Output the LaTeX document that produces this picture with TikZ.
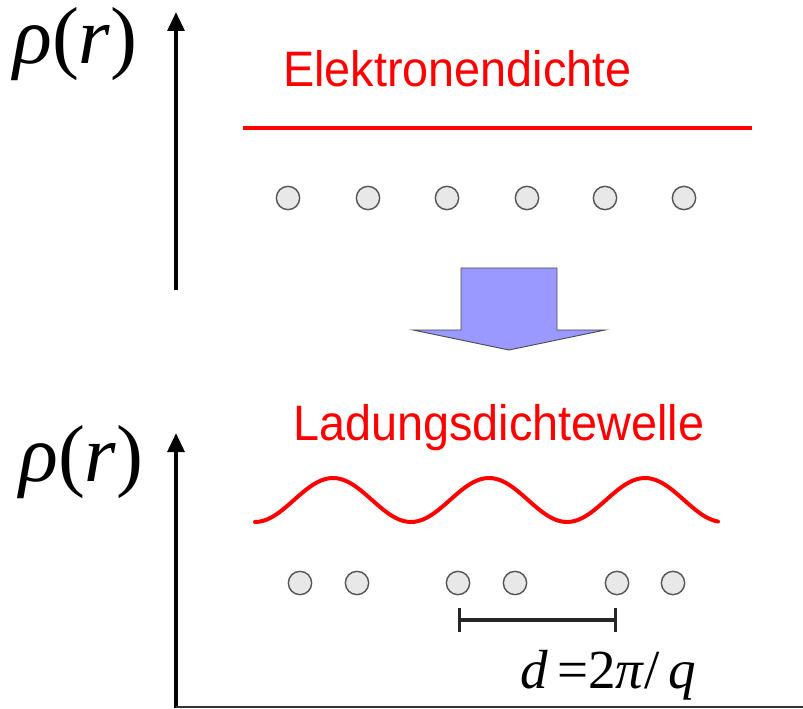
\documentclass[tikz,border=0pt]{standalone}
\usepackage{fontspec}
\usetikzlibrary{arrows.meta,positioning}
\newfontfamily\lblfont[FakeStretch=0.94]{Liberation Sans}
\newfontfamily\symfont{Liberation Serif}
\definecolor{ionfill}{HTML}{E8E8E8}
\definecolor{ionline}{HTML}{555555}
\definecolor{blockblue}{HTML}{9999FF}

\begin{document}
\begin{tikzpicture}[x=0.03cm, y=-0.03cm,
  ion/.style={circle, draw=ionline, fill=ionfill, line width=1.2pt, minimum size=0.7cm, inner sep=0pt},
  lbl/.style={anchor=base west, inner sep=0pt, text=red, font=\lblfont\fontsize{42.5}{50}\selectfont},
  sym/.style={anchor=base west, inner sep=0pt, font=\symfont\fontsize{69}{82}\selectfont},
  axis/.style={line width=3.4pt, -{Triangle[length=0.57cm, width=0.5cm]}},
  dens/.style={red, line width=3.4pt}]
\useasboundingbox (0,0) rectangle (803,709);

% ---------------- upper panel: homogeneous electron density
\coordinate (a1) at (176,290); \coordinate (a1top) at (176,12);
\draw[axis] (a1) -- (a1top);
\node[sym] (rho1) at (13,64) {\textit{ρ}(\textit{r})};
\node[lbl] (t1) at (283,87) {Elektronendichte};
\coordinate (e1) at (243,128); \coordinate (e2) at (752,128);
\draw[dens] (e1) -- (e2);
\foreach \i/\x in {1/288,2/368,3/447,4/527,5/605,6/684}
  \node[ion] (u\i) at (\x,198) {};

% ---------------- block arrow
\draw[fill=blockblue, draw=black!70, line width=0.8pt, line join=miter]
  (461,268) -- (557,268) -- (557,330) -- (605,330) -- (509,350) -- (413,330) -- (461,330) -- cycle;

% ---------------- lower panel: charge density wave
\coordinate (a2) at (176,708); \coordinate (a2top) at (176,433); \coordinate (a2end) at (803,707);
\draw[axis] (a2) -- (a2top);
\draw[line width=1.3pt, black!80] (a2) ++(0,-1) -- (a2end);
\node[sym] (rho2) at (19,482) {\textit{ρ}(\textit{r})};
\node[lbl] (t2) at (293,441) {Ladungsdichtewelle};
\draw[dens, line cap=round] plot[domain=255:718, samples=120, smooth] (\x, {500+22*cos(2.3077*(\x-255))});
\foreach \i/\x in {1/300,2/357,3/458,4/515,5/617,6/673}
  \node[ion] (l\i) at (\x,583) {};

% period bar
\coordinate (d1) at (458,620); \coordinate (d2) at (617,620);
\draw[line width=2.6pt, black!85, {Bar[width=0.7cm]}-{Bar[width=0.7cm]}] (d1) -- (d2);
\node[sym, font=\symfont\fontsize{47}{56}\selectfont] (per) at (520,688) {\textit{d}\,=2\textit{π}/\,\textit{q}};
\end{tikzpicture}
\end{document}
